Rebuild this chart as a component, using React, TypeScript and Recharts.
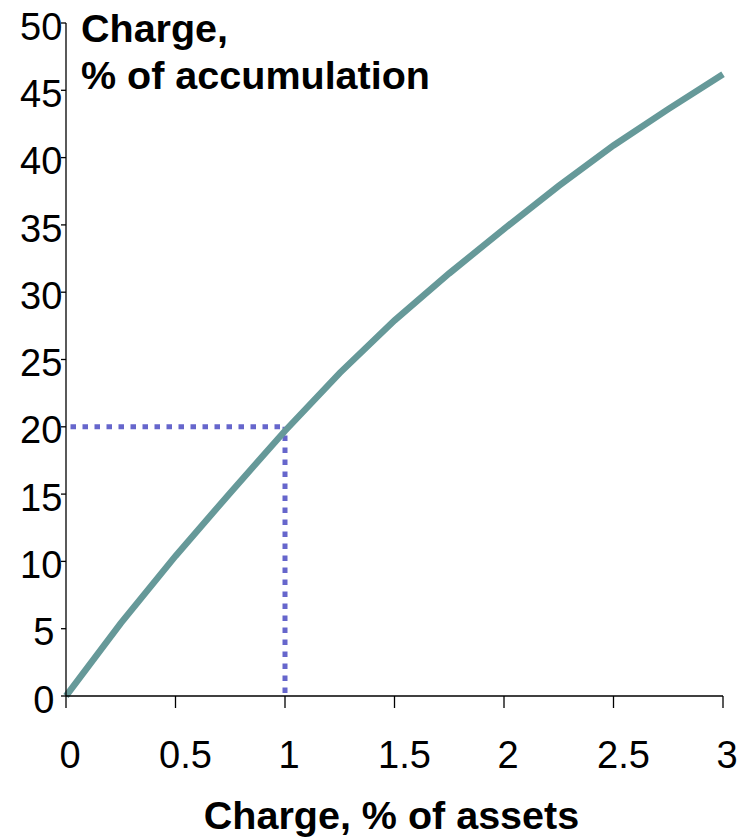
import React from 'react';
import { LineChart, Line, XAxis, YAxis, ReferenceLine, Label } from 'recharts';

// Charge as % of assets (x) vs charge as % of accumulation (y)
const chargeAssets: number[] = [0, 0.25, 0.5, 0.75, 1, 1.25, 1.5, 1.75, 2, 2.25, 2.5, 2.75, 3];
const chargeAccumulation: number[] = [0, 5.4, 10.4, 15.1, 19.7, 24.0, 27.9, 31.4, 34.7, 37.9, 40.9, 43.6, 46.2];

const xTicks: number[] = [0, 0.5, 1, 1.5, 2, 2.5, 3];
const yTicks: number[] = [0, 5, 10, 15, 20, 25, 30, 35, 40, 45, 50];

// Highlighted reading: 1% of assets -> 20% of accumulation
const markerAssets = 1;
const markerAccumulation = 20;

const titleLines: string[] = ['Charge,', '% of accumulation'];
const xTitle = 'Charge, % of assets';

const data = chargeAssets.map((x, i) => ({ x, y: chargeAccumulation[i] }));

const FONT = '"Liberation Sans", Arial, Helvetica, sans-serif';
const TICK_FS = 38;
const TITLE_FS = 39.5;

function textWidth(s: string, fs: number): number {
  let w = 0;
  for (const ch of s) w += (ch === '.' ? 0.278 : 0.556) * fs;
  return w;
}

const YTick = (props: any) => {
  const { x, y, payload } = props;
  const s = String(payload.value);
  const w = textWidth(s, TICK_FS);
  return (
    <text x={x + 0.38 * w} y={y} dy={16.6} textAnchor="end" fontSize={TICK_FS} fontFamily={FONT} fill="#000">
      {s}
    </text>
  );
};

const XTick = (props: any) => {
  const { x, y, payload } = props;
  const s = String(payload.value);
  const w = textWidth(s, TICK_FS);
  return (
    <text x={x + 0.19 * w} y={y} dy={60} textAnchor="middle" fontSize={TICK_FS} fontFamily={FONT} fill="#000">
      {s}
    </text>
  );
};

const renderYTitle = (props: any) => {
  const vb = props.viewBox || { x: 0, y: 23, width: 66, height: 673 };
  const x = vb.x + vb.width + 15;
  return (
    <text fontSize={TITLE_FS} fontWeight="bold" fontFamily={FONT} fill="#000">
      {titleLines.map((t, i) => (
        <tspan key={i} x={x} y={vb.y + 18.5 + i * 47.5}>
          {t}
        </tspan>
      ))}
    </text>
  );
};

const renderXTitle = (props: any) => {
  const vb = props.viewBox || { x: 66, y: 696, width: 657, height: 144 };
  return (
    <text
      x={vb.x + vb.width / 2 - 3}
      y={vb.y + 133}
      textAnchor="middle"
      fontSize={TITLE_FS}
      fontWeight="bold"
      fontFamily={FONT}
      fill="#000"
    >
      {xTitle}
    </text>
  );
};

export default function App() {
  return (
    <div style={{ position: 'absolute', left: 0, top: 0, width: 744, height: 840, background: '#fff' }}>
      <LineChart width={744} height={840} data={data} margin={{ top: 23, right: 21, bottom: 0, left: 0 }}>
        <XAxis
          type="number"
          dataKey="x"
          domain={[0, 3]}
          ticks={xTicks}
          interval={0}
          height={144}
          tickSize={12}
          tickMargin={0}
          axisLine={{ stroke: '#000', strokeWidth: 1.3 }}
          tickLine={{ stroke: '#000', strokeWidth: 1.3 }}
          tick={<XTick />}
        >
          <Label content={renderXTitle} />
        </XAxis>
        <YAxis
          type="number"
          domain={[0, 50]}
          ticks={yTicks}
          interval={0}
          width={66}
          tickSize={5}
          tickMargin={14.7}
          axisLine={{ stroke: '#000', strokeWidth: 1.3 }}
          tickLine={{ stroke: '#000', strokeWidth: 1.3 }}
          tick={<YTick />}
        >
          <Label content={renderYTitle} />
        </YAxis>
        <ReferenceLine
          segment={[
            { x: 0, y: markerAccumulation },
            { x: markerAssets, y: markerAccumulation },
          ]}
          stroke="#6666CC"
          strokeWidth={5}
          strokeDasharray="5.5 6.5"
          strokeDashoffset={7.5}
        />
        <ReferenceLine
          segment={[
            { x: markerAssets, y: 0 },
            { x: markerAssets, y: markerAccumulation },
          ]}
          stroke="#6666CC"
          strokeWidth={5}
          strokeDasharray="5.5 6.5"
          strokeDashoffset={9}
        />
        <Line
          type="linear"
          dataKey="y"
          stroke="#669999"
          strokeWidth={6.5}
          dot={false}
          activeDot={false}
          isAnimationActive={false}
        />
      </LineChart>
    </div>
  );
}
